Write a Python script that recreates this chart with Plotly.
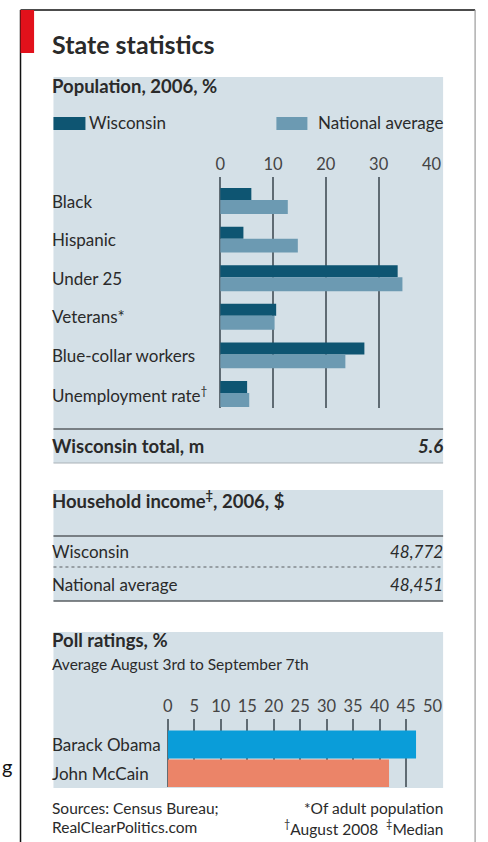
import plotly.graph_objects as go

# ---------------- data ----------------
categories = ["Black", "Hispanic", "Under 25", "Veterans*", "Blue-collar workers",
              "Unemployment rate<sup>†</sup>"]
wisconsin = [5.9, 4.4, 33.6, 10.6, 27.3, 5.1]
national = [12.8, 14.7, 34.5, 10.3, 23.7, 5.5]
series_names = ["Wisconsin", "National average"]
pop_ticks = [0, 10, 20, 30, 40]

wisconsin_total = 5.6

income_labels = ["Wisconsin", "National average"]
income_values = [48772, 48451]

candidates = ["Barack Obama", "John McCain"]
poll = [46.9, 41.8]
poll_ticks = [0, 5, 10, 15, 20, 25, 30, 35, 40, 45, 50]

# ---------------- styling ----------------
W, H = 488, 842
FONT = "Lato"
TXT = "#2a2a2a"
PANEL = "#d4e0e7"
C_WI = "#0e5572"
C_NAT = "#6c9ab2"
C_OBAMA = "#0a9dd9"
C_MCCAIN = "#eb8468"
GRID = "#5f6b73"
S_TITLE = 25
S_HEAD = 18.5
S_BODY = 17
S_TICK = 16.5
S_SMALL = 15.5
LX = 46      # left text anchor (px)
RX = 454     # right text anchor (px)


def X(px):
    return px / W


def Y(py):
    return 1 - py / H


row_idx = list(range(len(categories)))
cand_idx = list(range(len(candidates)))

fig = go.Figure()
fig.add_trace(go.Bar(
    name=series_names[0], orientation="h", x=wisconsin,
    y=[i - 0.18 for i in row_idx], width=0.31, marker=dict(color=C_WI, line=dict(width=0)),
    xaxis="x", yaxis="y", showlegend=False, hoverinfo="x"))
fig.add_trace(go.Bar(
    name=series_names[1], orientation="h", x=national,
    y=[i + 0.155 for i in row_idx], width=0.36, marker=dict(color=C_NAT, line=dict(width=0)),
    xaxis="x", yaxis="y", showlegend=False, hoverinfo="x"))
fig.add_trace(go.Bar(
    orientation="h", x=poll, y=cand_idx, width=0.97,
    marker=dict(color=[C_OBAMA, C_MCCAIN], line=dict(width=0)),
    xaxis="x2", yaxis="y2", showlegend=False, hoverinfo="x"))

shapes = []
annotations = []


def rect(x0, y0, x1, y1, color, layer="below"):
    shapes.append(dict(type="rect", xref="paper", yref="paper",
                       x0=X(x0), x1=X(x1), y0=Y(y1), y1=Y(y0),
                       fillcolor=color, line=dict(width=0), layer=layer))


def hline(x0, x1, y, color, width=1.2, dash="solid"):
    shapes.append(dict(type="line", xref="paper", yref="paper",
                       x0=X(x0), x1=X(x1), y0=Y(y), y1=Y(y),
                       line=dict(color=color, width=width, dash=dash), layer="above"))


def vline(x, y0, y1, color, width=1.5):
    shapes.append(dict(type="line", xref="paper", yref="paper",
                       x0=X(x), x1=X(x), y0=Y(y0), y1=Y(y1),
                       line=dict(color=color, width=width), layer="above"))


def text(t, x, y, size=S_BODY, anchor="left", color=TXT, yref="paper", family=FONT):
    annotations.append(dict(text=t, xref="paper", yref=yref,
                            x=X(x), y=(Y(y) if yref == "paper" else y),
                            xanchor=anchor, yanchor="middle", showarrow=False,
                            font=dict(family=family, size=size, color=color)))


# frame
vline(16, 10, 842, "#111111", 1.5)
hline(16, 485, 10, "#111111", 1.5)
vline(485, 10, 842, "#9a9a9a", 1.2)
rect(16, 10, 30, 53, "#e2111b", layer="above")

# panels
rect(50, 77, 452, 463, PANEL)
rect(50, 490, 452, 601, PANEL)
rect(50, 632, 452, 788, PANEL)

# title and panel 1
text("<b>State statistics</b>", LX, 44, S_TITLE)
text("<b>Population, 2006, %</b>", LX, 86, S_HEAD)
rect(50, 117, 83, 130, C_WI)
rect(280, 117, 312, 130, C_NAT)
text(series_names[0], 85, 123, S_BODY)
text(series_names[1], RX, 123, S_BODY, anchor="right")
for i, c in zip(row_idx, categories):
    text(c, LX, i, S_BODY, yref="y")

hline(50, 452, 429, "#5a5f63", 1.6)
text("<b>Wisconsin total, m</b>", LX, 446, S_HEAD)
text(f"<b><i>{wisconsin_total}</i></b>", RX, 446, S_HEAD, anchor="right")
hline(50, 452, 463, "#a9b2b8", 1.2)

# panel 2
text("<b>Household income<sup>‡</sup>, 2006, $</b>", LX, 499, S_HEAD)
hline(50, 452, 536, "#5a5f63", 1.3)
text(income_labels[0], LX, 551, S_BODY)
text(f"<i>{income_values[0]:,}</i>", RX, 551, S_BODY, anchor="right")
hline(50, 452, 567, "#5a5f63", 1.2, dash="dot")
text(income_labels[1], LX, 584, S_BODY)
text(f"<i>{income_values[1]:,}</i>", RX, 584, S_BODY, anchor="right")
hline(50, 452, 601, "#5a5f63", 1.3)

# panel 3
text("<b>Poll ratings, %</b>", LX, 640, S_HEAD)
text("Average August 3rd to September 7th", LX, 664, S_SMALL)
for i, c in zip(cand_idx, candidates):
    text(c, LX, i, S_BODY, yref="y2")

# footnotes
text("Sources: Census Bureau;", LX, 808, S_SMALL)
text("RealClearPolitics.com", LX, 827, S_SMALL)
text("*Of adult population", RX, 808, S_SMALL, anchor="right")
text("<sup>†</sup>August 2008  <sup>‡</sup>Median", RX, 827, S_SMALL, anchor="right")

# stray clipped glyph outside the frame
text("g", -5, 766, 20, color="#111111")

# axis geometry
p_top, p_bot, p_c0, p_step = 177, 408, 201, 38.6
q_top, q_bot, q_c0, q_step = 719, 787, 744.5, 29

fig.update_layout(
    width=W, height=H, margin=dict(l=0, r=0, t=0, b=0),
    paper_bgcolor="white", plot_bgcolor="rgba(0,0,0,0)",
    barmode="overlay", font=dict(family=FONT, color=TXT),
    shapes=shapes, annotations=annotations,
    xaxis=dict(domain=[X(222), X(440)], range=[0, 40], side="top",
               tickvals=pop_ticks, ticks="", showline=False,
               showgrid=True, gridcolor=GRID, gridwidth=1.5,
               zeroline=True, zerolinecolor=GRID, zerolinewidth=1.5,
               tickfont=dict(size=S_TICK, color="#444444"), fixedrange=True,
               ticklabelstandoff=3, anchor="y"),
    yaxis=dict(domain=[Y(p_bot), Y(p_top)],
               range=[(p_bot - p_c0) / p_step, (p_top - p_c0) / p_step],
               showticklabels=False, showgrid=False, zeroline=False,
               showline=False, fixedrange=True, anchor="x"),
    xaxis2=dict(domain=[X(168), X(441)], range=[0, 50], side="top",
                tickvals=poll_ticks, ticks="", showline=False,
                showgrid=True, gridcolor=GRID, gridwidth=1.5,
                zeroline=True, zerolinecolor=GRID, zerolinewidth=1.5,
                tickfont=dict(size=S_TICK, color="#444444"), fixedrange=True,
                ticklabelstandoff=3, anchor="y2"),
    yaxis2=dict(domain=[Y(q_bot), Y(q_top)],
                range=[(q_bot - q_c0) / q_step, (q_top - q_c0) / q_step],
                showticklabels=False, showgrid=False, zeroline=False,
                showline=False, fixedrange=True, anchor="x2"),
)

fig.write_html("out.html", config={"displayModeBar": False},
               post_script="document.body.style.margin='0';")
